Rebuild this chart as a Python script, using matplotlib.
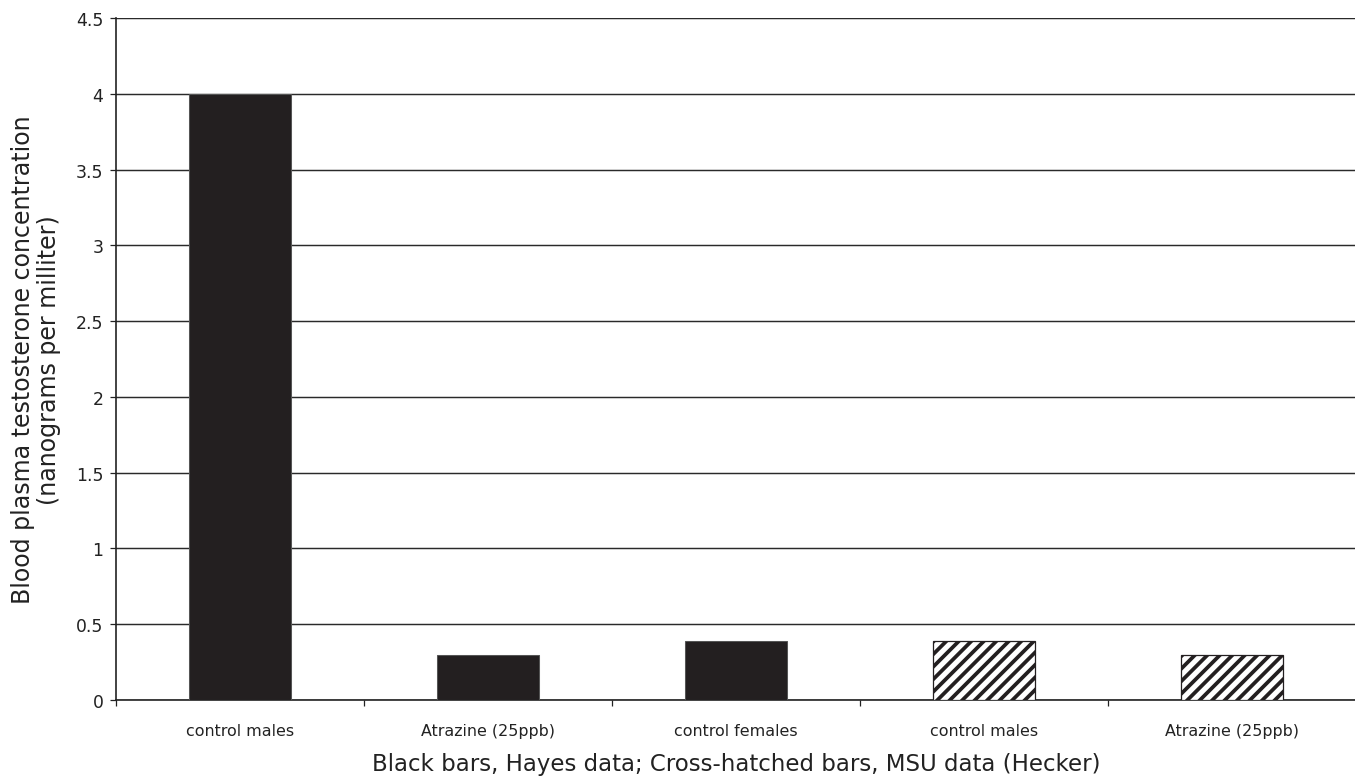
import matplotlib
matplotlib.use("Agg")
import matplotlib.pyplot as plt
import numpy as np

categories = ["control males", "Atrazine (25ppb)", "control females", "control males", "Atrazine (25ppb)"]
values = [4.0, 0.3, 0.39, 0.39, 0.3]
hatched = [False, False, False, True, True]
yticks = [0, 0.5, 1, 1.5, 2, 2.5, 3, 3.5, 4, 4.5]
ytick_labels = ["0", "0.5", "1", "1.5", "2", "2.5", "3", "3.5", "4", "4.5"]

plt.rcParams['font.family'] = ['DejaVu Sans']
plt.rcParams['hatch.linewidth'] = 1.8
plt.rcParams['hatch.color'] = '#231f20'

fig = plt.figure(figsize=(1356/150, 782/150), dpi=150)
ax = fig.add_axes([116/1356, 81/782, 1 - 116/1356, (701-19)/782])

x = np.arange(len(categories))
for xi, v, h in zip(x, values, hatched):
    if h:
        ax.bar(xi, v, width=0.41, facecolor='white', edgecolor='#231f20', hatch='////', linewidth=0.6, zorder=3)
    else:
        ax.bar(xi, v, width=0.41, facecolor='#231f20', edgecolor='#555555', linewidth=0.5, zorder=3)

ax.set_xlim(-0.5, len(categories) - 0.5)
ax.set_ylim(0, 4.5)
ax.set_yticks(yticks)
ax.set_yticklabels(ytick_labels, fontsize=8.3, color='#222222', family='DejaVu Sans')
ax.yaxis.grid(True, color='#2a2a2a', linewidth=0.7, zorder=0)
ax.set_axisbelow(True)

ax.set_xticks(x)
ax.set_xticklabels(categories, fontsize=7.6, color='#222222', family='DejaVu Sans')
ax.tick_params(axis='x', which='major', length=0, pad=11)
ax.set_xticks(np.arange(-0.5, len(categories) + 0.5, 1.0), minor=True)
ax.tick_params(axis='x', which='minor', length=3, width=0.6, direction='out', color='#222222')
ax.tick_params(axis='y', length=3, width=0.6, direction='out', color='#222222', pad=3)

for s in ['top', 'right']:
    ax.spines[s].set_visible(False)
ax.spines['left'].set_linewidth(0.8)
ax.spines['bottom'].set_linewidth(0.8)
ax.spines['left'].set_color('#222222')
ax.spines['bottom'].set_color('#222222')

ax.set_xlabel("Black bars, Hayes data; Cross-hatched bars, MSU data (Hecker)", fontsize=11.0, color='#222222', labelpad=7, family='DejaVu Sans')
ax.set_ylabel("Blood plasma testosterone concentration\n(nanograms per milliter)", fontsize=11.4, color='#222222', labelpad=7, linespacing=1.15, family='DejaVu Sans')

fig.savefig("out.png", dpi=150)
